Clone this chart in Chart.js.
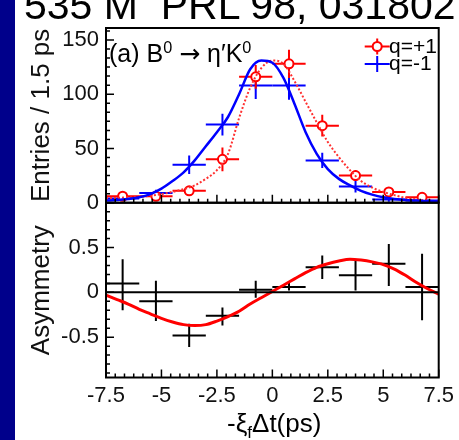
<!DOCTYPE html>
<html>
<head>
<meta charset="utf-8">
<script src="https://cdn.jsdelivr.net/npm/chart.js@4.4.0/dist/chart.umd.min.js"></script>
<style>
  body { margin: 0; width: 459px; height: 440px; overflow: hidden; background: #fff; position: relative;
         font-family: 'Liberation Sans', Arial, sans-serif; }
  #strip { position: absolute; left: 0; top: 0; width: 15px; height: 440px; background: #00008b; z-index: 3; }
  #wrap { position: absolute; left: 15px; top: 0; }
  .txt { position: absolute; white-space: pre; line-height: 1; color: #000; z-index: 2; }
  .arrow { font-family: 'DejaVu Sans', sans-serif; }
  sup { font-size: 0.65em; vertical-align: 0.55em; }
  sub { font-size: 0.65em; vertical-align: -0.35em; }
</style>
</head>
<body>
<div id="strip"></div>
<div class="txt" style="left:24px; top:-15px; font-size:41px;">535 M  PRL 98, 031802</div>
<div class="txt" style="left:109px; top:39px; font-size:25px;">(a) B<sup>0</sup> <span class="arrow">→</span> η′K<sup>0</sup></div>
<div class="txt" id="legPlus" style="left:389px; top:35px; font-size:21px;"></div>
<div class="txt" id="legMinus" style="left:389px; top:52px; font-size:21px;"></div>
<div class="txt" style="left:227px; top:410px; font-size:26px;">-ξ<sub>f</sub>Δt(ps)</div>
<div id="wrap"><canvas id="chart" width="444" height="440"></canvas></div>
<script>
// ---- data ----
const binCenters = [-6.75, -5.25, -3.75, -2.25, -0.75, 0.75, 2.25, 3.75, 5.25, 6.75];
const binHalfWidth = 0.75;

// q = +1 (red) and q = -1 (blue), entries / 1.5 ps
const qPlusEntries = [6, 6, 11, 40, 116, 128, 71, 25, 10, 5];
const qPlusErr     = [2.5, 2.5, 3.5, 11, 11, 13, 10, 5, 3, 2.2];
const qMinusEntries = [4, 9, 35, 72, 108, 108, 39, 15, 3, 2];
const qMinusErr     = [2, 3, 8.5, 10, 12.5, 13, 7, 5.5, 2, 1.5];

// asymmetry with upper / lower ends of the error bars
const asymValues = [0.10, -0.10, -0.48, -0.26, 0.03, 0.06, 0.28, 0.19, 0.32, 0.06];
const asymHigh   = [0.37, 0.13, -0.35, -0.17, 0.13, 0.11, 0.41, 0.35, 0.54, 0.43];
const asymLow    = [-0.20, -0.32, -0.61, -0.37, -0.06, 0.02, 0.15, 0.02, 0.07, -0.31];

// fit curves, sampled every 0.5 ps
const curveT = [-7.5, -7, -6.5, -6, -5.5, -5, -4.5, -4, -3.5, -3, -2.5, -2, -1.5, -1, -0.5, 0,
                0.5, 1, 1.5, 2, 2.5, 3, 3.5, 4, 4.5, 5, 5.5, 6, 6.5, 7, 7.5];
const qMinusFit = [2, 2.5, 3.5, 5, 8, 13, 20, 28, 39, 52, 65, 79, 100, 123, 131, 129,
                   115, 91, 65, 45, 31, 22, 16, 11, 7.5, 5, 3.5, 2.5, 2, 1.5, 1.2];
const qPlusFit  = [4, 4.5, 5, 5.5, 6.5, 8, 10, 12.5, 16, 22, 30, 45, 78, 106, 124, 131,
                   128, 112, 93, 74, 56, 42, 30, 20, 14, 10, 7, 4.5, 3, 2, 1.5];
const asymFit   = [-0.03, -0.08, -0.13, -0.19, -0.24, -0.29, -0.33, -0.36, -0.37, -0.36, -0.32, -0.27, -0.21, -0.13, -0.06, 0.01,
                   0.08, 0.15, 0.22, 0.28, 0.32, 0.35, 0.37, 0.36, 0.34, 0.31, 0.26, 0.19, 0.11, 0.04, -0.02];
const zeroLine = [0, 0];

// axes
const xRange = [-7.5, 7.5];
const xTicks = [-7.5, -5, -2.5, 0, 2.5, 5, 7.5];
const entriesRange = [0, 161];
const entriesTicks = [0, 50, 100, 150];
const asymRange = [-0.95, 1];
const asymTicks = [-0.5, 0, 0.5];

const seriesLabels = ['q=+1', 'q=-1'];

document.getElementById('legPlus').textContent = seriesLabels[0];
document.getElementById('legMinus').textContent = seriesLabels[1];

Chart.defaults.font.family = "'Liberation Sans', Arial, sans-serif";
Chart.defaults.color = '#111';

const toPoints = (xs, ys) => xs.map((x, i) => ({ x: x, y: ys[i] }));
const symErrors = (vals, errs) => vals.map((v, i) => ({ xw: binHalfWidth, lo: v - errs[i], hi: v + errs[i] }));

// error bars (drawn under the markers)
const errorBarPlugin = {
  id: 'errorBars',
  beforeDatasetsDraw(chart) {
    const ctx = chart.ctx;
    const xs = chart.scales.x;
    chart.data.datasets.forEach((ds) => {
      if (!ds.errors) return;
      const ys = chart.scales[ds.yAxisID];
      ctx.save();
      ctx.strokeStyle = ds.barColor;
      ctx.lineWidth = 2;
      ds.data.forEach((p, j) => {
        const e = ds.errors[j];
        const px = xs.getPixelForValue(p.x);
        const py = ys.getPixelForValue(p.y);
        ctx.beginPath();
        ctx.moveTo(xs.getPixelForValue(p.x - e.xw), py);
        ctx.lineTo(xs.getPixelForValue(p.x + e.xw), py);
        ctx.moveTo(px, ys.getPixelForValue(e.lo));
        ctx.lineTo(px, ys.getPixelForValue(e.hi));
        ctx.stroke();
      });
      ctx.restore();
    });
  }
};

// ROOT style frames, inward ticks and legend markers
const framePlugin = {
  id: 'frames',
  afterDraw(chart) {
    const ctx = chart.ctx;
    const { x, y, y2 } = chart.scales;
    ctx.save();
    ctx.strokeStyle = '#000';

    const panels = [
      { s: y, step: 50 / 6, major: 50 },
      { s: y2, step: 0.1, major: 0.5 }
    ];
    panels.forEach(({ s, step, major }) => {
      ctx.lineWidth = 2;
      ctx.strokeRect(x.left, s.top, x.right - x.left, s.bottom - s.top);
      ctx.lineWidth = 1.5;
      ctx.beginPath();
      // x ticks on the panel bottom
      for (let k = 0; k <= 36; k++) {
        const v = xRange[0] + k * 2.5 / 6;
        const px = x.getPixelForValue(v);
        const len = k % 6 === 0 ? 8 : 4;
        ctx.moveTo(px, s.bottom);
        ctx.lineTo(px, s.bottom - len);
      }
      // y ticks on the left
      const first = Math.ceil(s.min / step - 1e-6);
      const last = Math.floor(s.max / step + 1e-6);
      for (let k = first; k <= last; k++) {
        const v = k * step;
        const py = s.getPixelForValue(v);
        const isMajor = Math.abs(v / major - Math.round(v / major)) < 1e-6;
        ctx.moveTo(x.left, py);
        ctx.lineTo(x.left + (isMajor ? 8 : 4), py);
      }
      ctx.stroke();
    });

    // legend markers
    const lx0 = x.right - 74, lx1 = x.right - 49, lxc = (lx0 + lx1) / 2;
    const markers = [
      { color: '#ff0000', yc: 46.5, circle: true },
      { color: '#0000ff', yc: 64, circle: false }
    ];
    markers.forEach((m) => {
      ctx.strokeStyle = m.color;
      ctx.lineWidth = 2;
      ctx.beginPath();
      ctx.moveTo(lx0, m.yc); ctx.lineTo(lx1, m.yc);
      ctx.moveTo(lxc, m.yc - 8); ctx.lineTo(lxc, m.yc + 8);
      ctx.stroke();
      if (m.circle) {
        ctx.beginPath();
        ctx.arc(lxc, m.yc, 4.5, 0, Math.PI * 2);
        ctx.fillStyle = '#fff';
        ctx.fill();
        ctx.stroke();
      }
    });
    ctx.restore();
  }
};

const tickFont = { size: 22 };
const titleFont = { size: 26 };

const chart = new Chart(document.getElementById('chart').getContext('2d'), {
  type: 'line',
  data: {
    datasets: [
      {
        label: 'zero', data: toPoints(xRange, zeroLine), yAxisID: 'y2',
        borderColor: '#000', borderWidth: 2, pointRadius: 0
      },
      {
        label: 'asymmetry fit', data: toPoints(curveT, asymFit), yAxisID: 'y2',
        borderColor: '#ff0000', borderWidth: 3, pointRadius: 0, cubicInterpolationMode: 'monotone'
      },
      {
        label: 'q=-1 fit', data: toPoints(curveT, qMinusFit), yAxisID: 'y',
        borderColor: '#0000ff', borderWidth: 2.5, pointRadius: 0, cubicInterpolationMode: 'monotone'
      },
      {
        label: 'q=+1 fit', data: toPoints(curveT, qPlusFit), yAxisID: 'y',
        borderColor: '#ff3030', borderWidth: 2, borderDash: [2, 2], pointRadius: 0, cubicInterpolationMode: 'monotone'
      },
      {
        label: 'asymmetry', data: toPoints(binCenters, asymValues), yAxisID: 'y2', showLine: false,
        pointRadius: 0, barColor: '#000',
        errors: asymValues.map((v, i) => ({ xw: binHalfWidth, lo: asymLow[i], hi: asymHigh[i] }))
      },
      {
        label: seriesLabels[1], data: toPoints(binCenters, qMinusEntries), yAxisID: 'y', showLine: false,
        pointRadius: 0, barColor: '#0000ff', errors: symErrors(qMinusEntries, qMinusErr)
      },
      {
        label: seriesLabels[0], data: toPoints(binCenters, qPlusEntries), yAxisID: 'y', showLine: false,
        pointStyle: 'circle', pointRadius: 4.5, pointBorderWidth: 2,
        pointBorderColor: '#ff0000', pointBackgroundColor: '#fff',
        barColor: '#ff0000', errors: symErrors(qPlusEntries, qPlusErr)
      }
    ]
  },
  options: {
    responsive: false,
    animation: false,
    layout: { padding: { left: 0, right: 9, top: 28, bottom: 0 } },
    plugins: { legend: { display: false }, tooltip: { enabled: false } },
    scales: {
      x: {
        type: 'linear', min: xRange[0], max: xRange[1],
        afterBuildTicks: (s) => { s.ticks = xTicks.map((v) => ({ value: v })); },
        afterFit: (s) => { s.height = 62.5; },
        ticks: { font: tickFont, padding: 5, maxRotation: 0, autoSkip: false, callback: (v) => String(v) },
        grid: { display: false, drawTicks: false },
        border: { display: false }
      },
      // lower panel is listed first so that the stacked layout puts it at the bottom
      y2: {
        type: 'linear', position: 'left', stack: 'panels', stackWeight: 1,
        min: asymRange[0], max: asymRange[1],
        afterBuildTicks: (s) => { s.ticks = asymTicks.map((v) => ({ value: v })); },
        afterFit: (s) => { s.width = 91; },
        ticks: { font: tickFont, padding: 7, callback: (v) => String(v) },
        grid: { display: false, drawTicks: false },
        border: { display: false },
        title: { display: true, text: 'Asymmetry', font: titleFont, color: '#111', padding: { top: 11, bottom: 0 } }
      },
      y: {
        type: 'linear', position: 'left', stack: 'panels', stackWeight: 1,
        min: entriesRange[0], max: entriesRange[1],
        afterBuildTicks: (s) => { s.ticks = entriesTicks.map((v) => ({ value: v })); },
        afterFit: (s) => { s.width = 91; },
        ticks: { font: tickFont, padding: 7, callback: (v) => String(v) },
        grid: { display: false, drawTicks: false },
        border: { display: false },
        title: { display: true, text: 'Entries / 1.5 ps', font: titleFont, color: '#111', padding: { top: 11, bottom: 0 } }
      }
    }
  },
  plugins: [errorBarPlugin, framePlugin]
});
</script>
</body>
</html>
